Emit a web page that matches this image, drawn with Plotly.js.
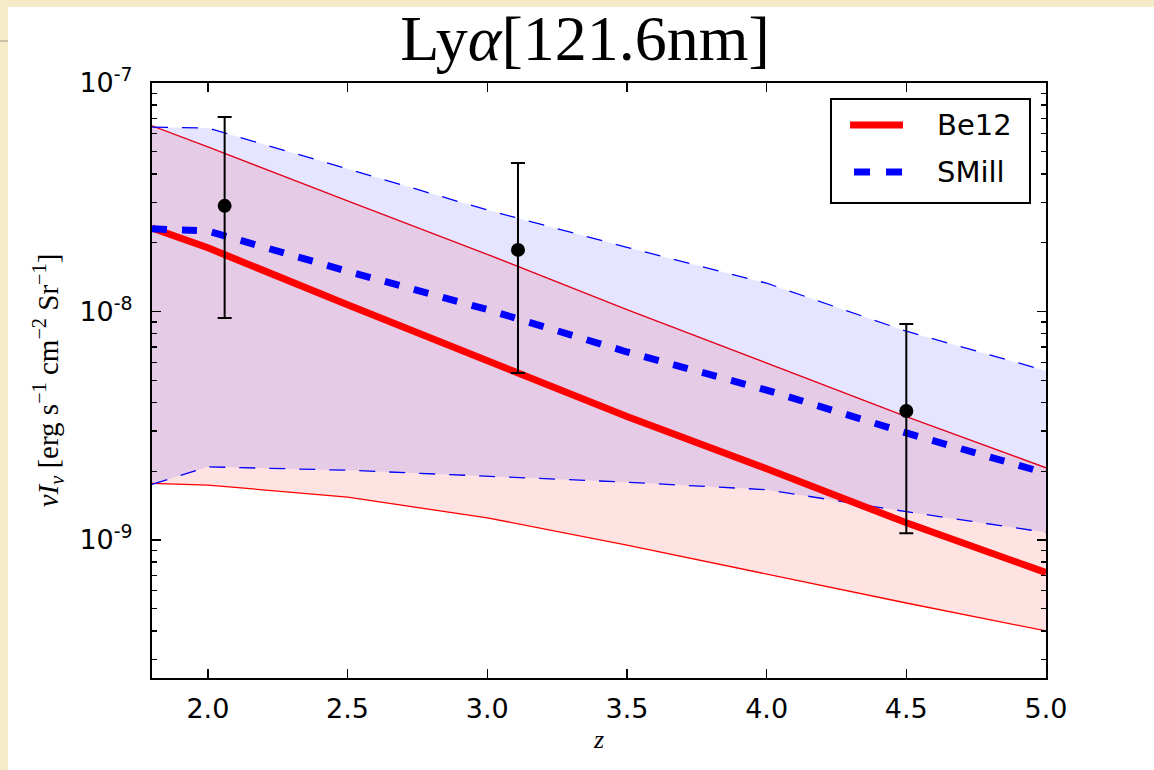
<!DOCTYPE html>
<html>
<head>
<meta charset="utf-8">
<script src="https://cdn.plot.ly/plotly-3.0.1.min.js"></script>
<style>
  html, body { margin: 0; padding: 0; width: 1154px; height: 770px; overflow: hidden; background: #f6ebc9; }
  #sheet { position: absolute; left: 8px; top: 7px; width: 1146px; height: 763px; background: white; }
  #rule { position: absolute; left: 0; top: 40px; width: 8px; height: 2px; background: #c9c0a6; }
  #chart { position: absolute; left: 0; top: 0; width: 1154px; height: 770px; }
</style>
</head>
<body>
<div id="sheet"></div>
<div id="rule"></div>
<div id="chart"></div>
<script>
// ---- data ----
const z = [1.8, 2.0, 2.5, 3.0, 3.5, 4.0, 4.5, 5.0];
const be12 = [2.32e-8, 1.9e-8, 1.07e-8, 6.1e-9, 3.47e-9, 2.05e-9, 1.19e-9, 7.2e-10];
const be12Hi = [6.49e-8, 5.25e-8, 3.05e-8, 1.78e-8, 1.02e-8, 5.96e-9, 3.47e-9, 2.07e-9];
const be12Lo = [1.77e-9, 1.74e-9, 1.54e-9, 1.25e-9, 9.5e-10, 7.1e-10, 5.3e-10, 4.0e-10];
const smill = [2.30e-8, 2.25e-8, 1.50e-8, 1.02e-8, 6.65e-9, 4.53e-9, 2.94e-9, 1.96e-9];
const smillHi = [6.41e-8, 6.35e-8, 4.21e-8, 2.78e-8, 1.91e-8, 1.33e-8, 8.2e-9, 5.5e-9];
const smillLo = [1.75e-9, 2.09e-9, 2.02e-9, 1.9e-9, 1.79e-9, 1.66e-9, 1.33e-9, 1.08e-9];

const obsZ = [2.06, 3.11, 4.5];
const obsVal = [2.90e-8, 1.86e-8, 3.67e-9];
const obsHi = [7.10e-8, 4.47e-8, 8.81e-9];
const obsLo = [9.37e-9, 5.38e-9, 1.07e-9];

const xTicks = [2.0, 2.5, 3.0, 3.5, 4.0, 4.5, 5.0];
const xTickText = ["2.0", "2.5", "3.0", "3.5", "4.0", "4.5", "5.0"];
const yTicks = [1e-9, 1e-8, 1e-7];
const yTickText = ["10<sup>-9</sup>", "10<sup>-8</sup>", "10<sup>-7</sup>"];
const yMinor = [];
[1e-10, 1e-9, 1e-8].forEach(d => { for (let k = 2; k <= 9; k++) yMinor.push(k * d); });

const names = ["Be12", "SMill"];
const titleText = "Ly<i>α</i>[121.6nm]";

// ---- traces ----
const thinDash = "16px,14px";
const thickDash = "15px,15px";
const traces = [
  { x: z, y: be12Lo, type: "scatter", mode: "lines", line: { color: "red", width: 1.3 }, showlegend: false, hoverinfo: "skip" },
  { x: z, y: be12Hi, type: "scatter", mode: "lines", line: { color: "red", width: 1.3 }, fill: "tonexty", fillcolor: "rgba(255,0,0,0.11)", showlegend: false, hoverinfo: "skip" },
  { x: z, y: smillLo, type: "scatter", mode: "lines", line: { color: "blue", width: 1.3, dash: thinDash }, showlegend: false, hoverinfo: "skip" },
  { x: z, y: smillHi, type: "scatter", mode: "lines", line: { color: "blue", width: 1.3, dash: thinDash }, fill: "tonexty", fillcolor: "rgba(0,0,255,0.10)", showlegend: false, hoverinfo: "skip" },
  { x: z, y: be12, type: "scatter", mode: "lines", name: names[0], showlegend: false, line: { color: "red", width: 7 } },
  { x: z, y: smill, type: "scatter", mode: "lines", name: names[1], showlegend: false, line: { color: "blue", width: 7, dash: thickDash } },
  { x: obsZ, y: obsVal, type: "scatter", mode: "markers", showlegend: false,
    marker: { color: "black", size: 14 },
    error_y: { type: "data", symmetric: false,
      array: obsHi.map((h, i) => h - obsVal[i]),
      arrayminus: obsLo.map((l, i) => obsVal[i] - l),
      color: "black", thickness: 2, width: 7 } }
];

const axisCommon = {
  showline: true, linecolor: "black", linewidth: 2, mirror: "ticks",
  ticks: "inside", tickcolor: "black", tickwidth: 1.3, ticklen: 9,
  showgrid: false, zeroline: false,
  tickfont: { family: "DejaVu Sans", size: 27, color: "black" }
};

// legend box (drawn by hand to match the reference's proportions)
const legFont = { family: "DejaVu Sans", size: 29, color: "black" };
const shapes = [
  { type: "rect", xref: "paper", yref: "paper", x0: 0.7595, x1: 0.9821, y0: 0.7983, y1: 0.9731,
    fillcolor: "white", line: { color: "black", width: 2 }, layer: "above" },
  { type: "line", xref: "paper", yref: "paper", x0: 0.7808, x1: 0.8400, y0: 0.9294, y1: 0.9294,
    line: { color: "red", width: 7 }, layer: "above" },
  { type: "line", xref: "paper", yref: "paper", x0: 0.7853, x1: 0.8400, y0: 0.8504, y1: 0.8504,
    line: { color: "blue", width: 7, dash: "16px,16px" }, layer: "above" }
];
const annotations = [
  { xref: "paper", yref: "paper", x: 0.8758, y: 0.9294, xanchor: "left", yanchor: "middle", showarrow: false, text: names[0], font: legFont },
  { xref: "paper", yref: "paper", x: 0.8758, y: 0.8504, xanchor: "left", yanchor: "middle", showarrow: false, text: names[1], font: legFont }
];

const layout = {
  width: 1154, height: 770,
  paper_bgcolor: "rgba(0,0,0,0)", plot_bgcolor: "white",
  margin: { l: 152, r: 108, t: 83, b: 92 },
  showlegend: false,
  shapes: shapes,
  annotations: annotations,
  title: { text: titleText, x: 585 / 1154, xanchor: "center", xref: "container",
           y: 1 - 38 / 770, yanchor: "middle", yref: "container",
           font: { family: "Liberation Serif", size: 64, color: "black" } },
  xaxis: Object.assign({}, axisCommon, {
    range: [1.8, 5.0], tickmode: "array", tickvals: xTicks, ticktext: xTickText,
    ticklabelstandoff: 6,
    title: { text: "<i>z</i>", standoff: 6, font: { family: "Liberation Serif", size: 26, color: "black" } }
  }),
  yaxis: Object.assign({}, axisCommon, {
    type: "log", range: [-9.604, -7], tickmode: "array", tickvals: yTicks, ticktext: yTickText,
    ticklabelstandoff: 12,
    minor: { tickmode: "array", tickvals: yMinor, ticks: "inside", ticklen: 5, tickcolor: "black", tickwidth: 1.3, showgrid: false },
    title: { text: "<i>νI</i><sub><i>ν</i></sub> [erg s<sup>−1</sup> cm<sup>−2</sup> Sr<sup>−1</sup>]", standoff: 12,
             font: { family: "Liberation Serif", size: 29, color: "black" } }
  })
};

Plotly.newPlot("chart", traces, layout, { displayModeBar: false, staticPlot: true });
</script>
</body>
</html>
